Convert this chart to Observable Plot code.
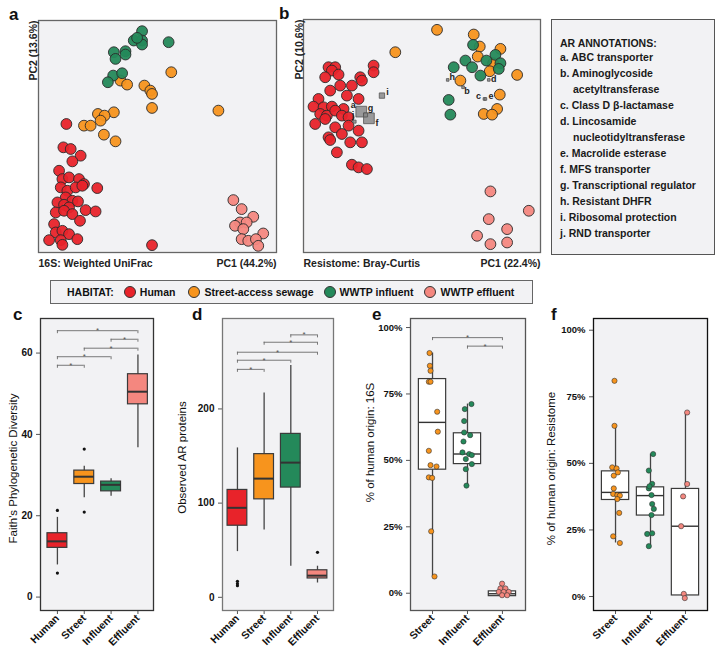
<!DOCTYPE html>
<html>
<head>
<meta charset="utf-8">
<script src="https://cdn.jsdelivr.net/npm/d3@7"></script>
<script src="https://cdn.jsdelivr.net/npm/@observablehq/plot@0.6"></script>
<style>
  body { margin: 0; background: #fff; font-family: "Liberation Sans", Arial, sans-serif; }
  #root { position: relative; width: 716px; height: 659px; overflow: hidden; background: #fff; }
  .panel { position: absolute; }
  .panel svg { display: block; overflow: visible; background: transparent; max-width: none; }
  .letter { position: absolute; font-weight: bold; font-size: 17px; line-height: 17px; color: #111; }
</style>
</head>
<body>
<div id="root"></div>
<script>
// ---------------- DATA ----------------
const habitats = ["Human", "Street-access sewage", "WWTP influent", "WWTP effluent"];
const habitatColors = ["#E8232A", "#F7941D", "#24895A", "#F4877F"];

// Panel a: 16S weighted UniFrac PCoA  [PC1, PC2]
const pcoa16S_human = [[-0.273,0.030],[-0.282,-0.040],[-0.260,-0.045],[-0.230,-0.065],[-0.255,-0.082],[-0.295,-0.110],[-0.285,-0.135],[-0.265,-0.130],[-0.235,-0.135],[-0.220,-0.150],[-0.180,-0.162],[-0.290,-0.160],[-0.270,-0.170],[-0.245,-0.160],[-0.225,-0.155],[-0.275,-0.190],[-0.255,-0.200],[-0.238,-0.202],[-0.300,-0.205],[-0.280,-0.212],[-0.265,-0.220],[-0.215,-0.228],[-0.185,-0.232],[-0.305,-0.235],[-0.280,-0.230],[-0.255,-0.240],[-0.232,-0.260],[-0.310,-0.270],[-0.305,-0.295],[-0.285,-0.290],[-0.265,-0.300],[-0.325,-0.318],[-0.290,-0.318],[-0.240,-0.315],[-0.285,-0.332],[-0.015,-0.333]];
const pcoa16S_street = [[0.043,0.185],[-0.110,0.160],[-0.090,0.148],[-0.038,0.145],[-0.020,0.130],[-0.015,0.120],[-0.015,0.078],[0.185,0.070],[-0.178,0.060],[-0.130,0.065],[-0.158,0.055],[-0.170,0.040],[-0.220,0.025],[-0.200,0.025],[-0.160,-0.002],[-0.125,-0.022]];
const pcoa16S_influent = [[-0.045,0.308],[-0.070,0.280],[-0.045,0.280],[-0.045,0.268],[0.035,0.275],[-0.130,0.245],[-0.095,0.248],[-0.125,0.225],[-0.095,0.238],[-0.132,0.175],[-0.105,0.182],[-0.148,0.155],[-0.060,0.288]];
const pcoa16S_effluent = [[0.230,-0.198],[0.255,-0.225],[0.290,-0.248],[0.250,-0.265],[0.270,-0.265],[0.235,-0.275],[0.260,-0.285],[0.320,-0.298],[0.255,-0.315],[0.275,-0.320],[0.298,-0.315],[0.305,-0.335]];
const pcoa16S_labels = ["PC1 (44.2%)", "PC2 (13.6%)", "16S: Weighted UniFrac"];

// Panel b: resistome Bray-Curtis PCoA  [PC1, PC2]
const pcoaRes_human = [[-0.140,0.205],[-0.140,0.185],[-0.275,0.200],[-0.255,0.200],[-0.265,0.190],[-0.245,0.178],[-0.285,0.170],[-0.180,0.170],[-0.175,0.160],[-0.240,0.145],[-0.205,0.145],[-0.270,0.130],[-0.220,0.115],[-0.305,0.105],[-0.185,0.105],[-0.320,0.082],[-0.290,0.080],[-0.265,0.082],[-0.230,0.075],[-0.300,0.060],[-0.280,0.055],[-0.255,0.070],[-0.235,0.055],[-0.285,0.045],[-0.215,0.050],[-0.315,0.030],[-0.255,0.020],[-0.215,0.025],[-0.185,0.010],[-0.235,0.000],[-0.275,-0.010],[-0.270,-0.018],[-0.210,-0.025],[-0.175,-0.025],[-0.250,-0.055],[-0.205,-0.092],[-0.185,-0.100],[-0.160,-0.105]];
const pcoaRes_street = [[0.050,0.312],[0.160,0.298],[0.178,0.262],[-0.075,0.245],[0.240,0.255],[0.172,0.232],[0.218,0.212],[0.208,0.188],[0.290,0.177],[0.120,0.160],[0.238,0.118],[0.230,0.075],[0.190,0.060],[0.215,0.058]];
const pcoaRes_influent = [[0.158,0.267],[0.225,0.237],[0.135,0.220],[0.198,0.220],[0.155,0.200],[0.240,0.212],[0.235,0.195],[0.180,0.175],[0.100,0.200],[0.085,0.102],[0.090,0.058]];
const pcoaRes_effluent = [[0.210,-0.172],[0.325,-0.230],[0.205,-0.255],[0.260,-0.285],[0.170,-0.305],[0.210,-0.330],[0.260,-0.325]];
const pcoaRes_labels = ["PC1 (22.4%)", "PC2 (10.6%)", "Resistome: Bray-Curtis"];

// AR annotations (biplot loadings on panel b)
const arLetters = ["a","b","c","d","e","f","g","h","i","j"];
const arNames = [["ABC transporter"],["Aminoglycoside","acetyltransferase"],["Class D β-lactamase"],["Lincosamide","nucleotidyltransferase"],["Macrolide esterase"],["MFS transporter"],["Transcriptional regulator"],["Resistant DHFR"],["Ribosomal protection"],["RND transporter"]];
const arPC1 = [-0.177, 0.128, 0.192, 0.205, 0.195, -0.154, -0.164, 0.082, -0.115, -0.197];
const arPC2 = [0.067, 0.140, 0.105, 0.162, 0.105, 0.047, 0.057, 0.162, 0.115, 0.037];
const arAbundance = [1.0, 0.06, 0.06, 0.06, 0.06, 1.0, 0.14, 0.06, 0.25, 0.08];

// Panel c: Faith's phylogenetic diversity
const alphaCats = ["Human", "Street", "Influent", "Effluent"];
const faithLow  = [7.9, 24.4, 24.8, 36.7];
const faithQ1   = [12.1, 27.8, 26.0, 47.4];
const faithMed  = [13.7, 29.6, 27.6, 50.5];
const faithQ3   = [15.7, 31.1, 28.4, 54.8];
const faithHigh = [19.6, 32.2, 29.1, 59.5];
const faithOutliers = [["Human",5.9],["Human",21.3],["Street",20.9],["Street",36.4]];
const faithSig = [["Human","Street",57.0],["Human","Influent",59.1],["Street","Effluent",61.2],["Influent","Effluent",63.4],["Human","Effluent",65.5]];

// Panel d: observed AR proteins
const arpLow  = [48.5, 71.5, 33, 15.2];
const arpQ1   = [76, 104, 116.5, 20];
const arpMed  = [95, 126, 143, 23];
const arpQ3   = [114, 152, 173.5, 28.7];
const arpHigh = [158.6, 217, 246, 33];
const arpOutliers = [["Human",17],["Human",14.5],["Human",12.4],["Effluent",47.8]];
const arpSig = [["Human","Street",242],["Human","Influent",251.7],["Human","Effluent",260.2],["Street","Effluent",270.8],["Influent","Effluent",278.6]];

// Panel e: % of human origin, 16S   points: [value %, horizontal jitter]
const sinkCats = ["Street", "Influent", "Effluent"];
const h16Low  = [6.3, 40.5, -1.1];
const h16Q1   = [46.5, 48.6, -1.1];
const h16Med  = [64.3, 52.4, -0.2];
const h16Q3   = [80.6, 60.2, 0.7];
const h16High = [90.4, 71.2, 0.7];
const h16_street = [[90.4,-0.086],[85.6,-0.076],[83.7,-0.057],[79.6,-0.105],[79.6,-0.057],[68.3,0.133],[60.8,0.152],[53.6,-0.105],[48.2,-0.057],[47.7,0.114],[43.6,-0.105],[43.4,-0.01],[23.3,-0.038],[6.3,0.057]];
const h16_influent = [[71.2,0.114],[69.3,-0.076],[64.8,-0.095],[60.5,-0.095],[59.5,0.076],[57.1,-0.114],[53.0,-0.143],[52.4,0.048],[52.0,0.124],[50.5,-0.048],[48.6,0.124],[46.7,-0.048],[40.5,-0.029]];
const h16_effluent = [[3.6,-0.01],[1.8,-0.057],[1.8,0.086],[0.5,-0.105],[0.5,0.037],[0.5,0.18],[-0.75,-0.01],[-0.75,0.134]];
const h16Sig = [["Influent","Effluent",93.0],["Street","Effluent",96.2]];

// Panel f: % of human origin, resistome
const hResLow  = [20.1, 18.9, 0.0];
const hResQ1   = [36.25, 30.4, 0.4];
const hResMed  = [39.1, 37.9, 26.4];
const hResQ3   = [47.0, 41.0, 40.4];
const hResHigh = [64.1, 53.5, 69.1];
const hRes_street = [[81.0,-0.03],[64.1,-0.03],[48.5,-0.095],[48.1,0.03],[45.4,-0.05],[46.6,0.067],[40.6,-0.05],[38.5,-0.067],[38.1,0.05],[37.9,0.124],[36.6,0.05],[31.4,0.105],[22.6,-0.067],[20.1,0.124]];
const hRes_influent = [[53.5,0.076],[47.3,-0.048],[42.3,0.048],[40.6,-0.048],[38.1,0.029],[34.75,0.048],[32.9,0.095],[30.6,0.029],[23.5,-0.095],[23.75,0.048],[18.9,-0.048],[41.4,-0.029]];
const hRes_effluent = [[69.1,0.048],[42.25,0.048],[37.6,-0.067],[26.4,-0.124],[1.0,-0.048],[-0.6,-0.019]];

// ---------------- HELPERS ----------------
const FONT = "'Liberation Sans', Arial, Helvetica, sans-serif";
const PANEL_BG = "#F2F2F4";
const catColor = {Human: habitatColors[0], Street: habitatColors[1], Influent: habitatColors[2], Effluent: habitatColors[3]};
const root = document.getElementById("root");

function place(node, left, top) {
  const d = document.createElement("div");
  d.className = "panel";
  d.style.left = left + "px";
  d.style.top = top + "px";
  d.appendChild(node);
  root.appendChild(d);
  return d;
}
function letter(t, left, top) {
  const d = document.createElement("div");
  d.className = "letter";
  d.textContent = t;
  d.style.left = left + "px";
  d.style.top = top + "px";
  root.appendChild(d);
}
function pointTable(groups) {
  return groups.flatMap(([k, pts]) => pts.map(([x, y]) => ({habitat: habitats[k], color: habitatColors[k], pc1: x, pc2: y})));
}

function scatterPanel(cfg) {
  const pts = pointTable(cfg.groups);
  const [pc1Label, pc2Label, title] = cfg.labels;
  const marks = [
    Plot.frame({fill: PANEL_BG, stroke: "#666", strokeWidth: 1.3}),
    Plot.dot(pts, {x: "pc1", y: "pc2", fill: "color", fillOpacity: 0.95, stroke: "#2a2a2a", strokeWidth: 0.9, r: 5.4}),
    ...(cfg.extra || []),
    Plot.text([pc2Label], {text: d => d, frameAnchor: "top-left", rotate: -90, textAnchor: "end", dx: cfg.pc2dx, fontWeight: "bold", fontSize: 10.5, fill: "#222"}),
    Plot.text([title], {text: d => d, frameAnchor: "bottom-left", textAnchor: "start", dy: 14, fontWeight: "bold", fontSize: 10.5, fill: "#222"}),
    Plot.text([pc1Label], {text: d => d, frameAnchor: "bottom-right", textAnchor: "end", dy: 14, fontWeight: "bold", fontSize: 10.5, fill: "#222"})
  ];
  return Plot.plot({
    width: cfg.width, height: cfg.height,
    marginLeft: cfg.ml, marginRight: cfg.mr, marginTop: cfg.mt, marginBottom: cfg.mb,
    x: {domain: cfg.xDomain, axis: null},
    y: {domain: cfg.yDomain, axis: null},
    color: {type: "identity"},
    r: cfg.r,
    style: {fontFamily: FONT, background: "transparent", overflow: "visible"},
    marks
  });
}

function boxPanel(cfg) {
  const n = cfg.cats.length;
  const idx = c => cfg.cats.indexOf(c) + 1;
  const stats = cfg.cats.map((c, k) => ({i: k + 1, cat: c, low: cfg.low[k], q1: cfg.q1[k], med: cfg.med[k], q3: cfg.q3[k], high: cfg.high[k]}));
  const [y0, y1] = cfg.yDomain;
  const frameH = cfg.height - cfg.mt - cfg.mb;
  const tickLen = 3 * (y1 - y0) / frameH;
  const br = (cfg.sig || []).map(([a, b, y]) => ({x1: idx(a), x2: idx(b), y}));
  const brEnds = br.flatMap(d => [{x: d.x1, y: d.y}, {x: d.x2, y: d.y}]);
  const outl = (cfg.outliers || []).map(([c, v]) => ({i: idx(c), v}));
  const pts = (cfg.points || []).flatMap(([c, arr]) => arr.map(([v, j]) => ({cat: c, i: idx(c) + j, v})));
  const half = cfg.half;
  const marks = [
    Plot.frame({fill: PANEL_BG}),
    Plot.ruleY(br, {x1: "x1", x2: "x2", y: "y", stroke: "#6a6a6a", strokeWidth: 0.9}),
    Plot.ruleX(brEnds, {x: "x", y1: "y", y2: d => d.y - tickLen, stroke: "#6a6a6a", strokeWidth: 0.9}),
    Plot.text(br, {x: d => (d.x1 + d.x2) / 2, y: "y", text: () => "*", lineAnchor: "bottom", dy: 2.5, fontSize: 8, fill: "#555"}),
    Plot.ruleX(stats, {x: "i", y1: "low", y2: "high", stroke: "#454545", strokeWidth: 1.3}),
    Plot.rect(stats, {x1: d => d.i - half, x2: d => d.i + half, y1: "q1", y2: "q3",
      fill: cfg.filled ? (d => catColor[d.cat]) : "#ffffff", stroke: "#3a3a3a", strokeWidth: 1.2}),
    Plot.ruleY(stats, {x1: d => d.i - half, x2: d => d.i + half, y: "med", stroke: "#333", strokeWidth: cfg.filled ? 2 : 1.4}),
    Plot.dot(outl, {x: "i", y: "v", r: 1.6, fill: "#111", stroke: "none"}),
    Plot.dot(pts, {x: "i", y: "v", r: 2.6, fill: d => catColor[d.cat], stroke: "#333", strokeWidth: 0.6}),
    Plot.axisY({ticks: cfg.yTicks, tickFormat: cfg.yFormat, tickSize: 4, tickPadding: 4, fontSize: cfg.tickFont, fontWeight: "bold", stroke: "#555", fill: "#111", label: null}),
    Plot.axisX({ticks: d3.range(1, n + 1), tickFormat: i => cfg.cats[i - 1], tickRotate: -45, tickSize: 4, tickPadding: 2, fontSize: 10.5, fontWeight: "bold", stroke: "#555", fill: "#111", label: null}),
    Plot.text([cfg.ylabel], {text: d => d, frameAnchor: "left", textAnchor: "middle", rotate: -90, dx: cfg.ylabelDx, dy: cfg.ylabelDy || 0, fontSize: 11.5, fill: "#111"}),
    Plot.frame({stroke: cfg.frameStroke, strokeWidth: 1.3})
  ];
  return Plot.plot({
    width: cfg.width, height: cfg.height,
    marginLeft: cfg.ml, marginRight: cfg.mr, marginTop: cfg.mt, marginBottom: cfg.mb,
    x: {type: "linear", domain: cfg.xDomain},
    y: {domain: cfg.yDomain},
    color: {type: "identity"},
    style: {fontFamily: FONT, background: "transparent", overflow: "visible"},
    marks
  });
}

// ---------------- PANEL a ----------------
place(scatterPanel({
  width: 280, height: 280, ml: 38, mr: 4, mt: 20, mb: 28,
  xDomain: [-0.357, 0.36], yDomain: [-0.355, 0.34],
  groups: [[0, pcoa16S_human], [1, pcoa16S_street], [2, pcoa16S_influent], [3, pcoa16S_effluent]],
  labels: pcoa16S_labels, pc2dx: -9
}), 0, 0);

// ---------------- PANEL b ----------------
const arTable = arLetters.map((l, k) => ({letter: l, pc1: arPC1[k], pc2: arPC2[k], abundance: arAbundance[k]}));
const arLabelOffset = {a: [-8, -7], b: [4, 3.5], c: [-6, -3], d: [5, -1], e: [5.5, -3], f: [8, 5], g: [5, -7], h: [4.5, -3], i: [5.5, -3], j: [-1.5, -7]};
const arMarks = [
  Plot.dot(arTable, {x: "pc1", y: "pc2", r: "abundance", symbol: "square", fill: "#8a8a8a", fillOpacity: 0.85, stroke: "#555", strokeWidth: 0.8}),
  ...arTable.map(d => Plot.text([d], {x: "pc1", y: "pc2", text: "letter", dx: arLabelOffset[d.letter][0], dy: arLabelOffset[d.letter][1], fontSize: 9, fontWeight: "bold", fill: "#222"}))
];
place(scatterPanel({
  width: 275, height: 280, ml: 33, mr: 5, mt: 19, mb: 28,
  xDomain: [-0.35, 0.36], yDomain: [-0.355, 0.343],
  groups: [[0, pcoaRes_human], [1, pcoaRes_street], [2, pcoaRes_influent], [3, pcoaRes_effluent]],
  labels: pcoaRes_labels, pc2dx: -7.5,
  r: {type: "sqrt", domain: [0, 1], range: [0, 6.04]},
  extra: arMarks
}), 270, 0);

// ---------------- AR annotation box ----------------
(function () {
  const box = document.createElement("div");
  box.style.cssText = "position:absolute;left:551px;top:19px;width:164px;height:236px;box-sizing:border-box;border:1px solid #555;background:" + PANEL_BG + ";padding:15px 0 0 8px;font-weight:bold;font-size:10.5px;line-height:16px;color:#1a1a1a;white-space:nowrap;";
  const head = document.createElement("div");
  head.textContent = "AR ANNOTATIONS:";
  head.style.marginBottom = "-2px";
  box.appendChild(head);
  arLetters.forEach((l, k) => {
    arNames[k].forEach((line, m) => {
      const row = document.createElement("div");
      row.textContent = m === 0 ? l + ". " + line : line;
      if (m > 0) row.style.paddingLeft = "13px";
      box.appendChild(row);
    });
  });
  root.appendChild(box);
})();

// ---------------- HABITAT legend ----------------
(function () {
  const lg = document.createElement("div");
  lg.style.cssText = "position:absolute;left:50px;top:280px;width:483px;height:24px;box-sizing:border-box;border:1px solid #666;background:" + PANEL_BG + ";display:flex;align-items:center;padding-left:16px;font-weight:bold;font-size:10.5px;color:#111;white-space:nowrap;";
  const t = document.createElement("span");
  t.textContent = "HABITAT:";
  lg.appendChild(t);
  const gaps = [10, 13, 10, 11];
  habitats.forEach((h, k) => {
    const sw = document.createElement("span");
    sw.style.cssText = "display:inline-block;width:12px;height:12px;box-sizing:border-box;border-radius:50%;border:1px solid #333;background:" + habitatColors[k] + ";margin-left:" + gaps[k] + "px;margin-right:4px;";
    lg.appendChild(sw);
    const tx = document.createElement("span");
    tx.textContent = h;
    lg.appendChild(tx);
  });
  root.appendChild(lg);
})();

// ---------------- PANEL c ----------------
place(boxPanel({
  width: 180, height: 359, ml: 40, mr: 27, mt: 18, mb: 49,
  cats: alphaCats, low: faithLow, q1: faithQ1, med: faithMed, q3: faithQ3, high: faithHigh,
  outliers: faithOutliers, sig: faithSig, filled: true, half: 0.37,
  xDomain: [0.37, 4.58], yDomain: [-3.3, 68.5], yTicks: [0, 20, 40, 60], yFormat: d => d, tickFont: 10,
  ylabel: "Faith's Phylogenetic Diversity", ylabelDx: -27, ylabelDy: 4, frameStroke: "#333"
}), 0, 300);

// ---------------- PANEL d ----------------
place(boxPanel({
  width: 180, height: 359, ml: 42, mr: 27, mt: 18, mb: 49,
  cats: alphaCats, low: arpLow, q1: arpQ1, med: arpMed, q3: arpQ3, high: arpHigh,
  outliers: arpOutliers, sig: arpSig, filled: true, half: 0.37,
  xDomain: [0.44, 4.6], yDomain: [-14, 296], yTicks: [0, 100, 200], yFormat: d => d, tickFont: 10,
  ylabel: "Observed AR proteins", ylabelDx: -40, ylabelDy: -7, frameStroke: "#777"
}), 180, 300);

// ---------------- PANEL e ----------------
place(boxPanel({
  width: 180, height: 359, ml: 50, mr: 15, mt: 18, mb: 49,
  cats: sinkCats, low: h16Low, q1: h16Q1, med: h16Med, q3: h16Q3, high: h16High,
  points: [["Street", h16_street], ["Influent", h16_influent], ["Effluent", h16_effluent]],
  sig: h16Sig, filled: false, half: 0.39,
  xDomain: [0.37, 3.66], yDomain: [-6.5, 103.4], yTicks: [0, 25, 50, 75, 100], yFormat: d => d + "%", tickFont: 9.5,
  ylabel: "% of human origin: 16S", ylabelDx: -40, ylabelDy: -22, frameStroke: "#555"
}), 360, 300);

// ---------------- PANEL f ----------------
place(boxPanel({
  width: 176, height: 359, ml: 53, mr: 9, mt: 18, mb: 49,
  cats: sinkCats, low: hResLow, q1: hResQ1, med: hResMed, q3: hResQ3, high: hResHigh,
  points: [["Street", hRes_street], ["Influent", hRes_influent], ["Effluent", hRes_effluent]],
  sig: [], filled: false, half: 0.39,
  xDomain: [0.37, 3.63], yDomain: [-5.25, 104.4], yTicks: [0, 25, 50, 75, 100], yFormat: d => d + "%", tickFont: 9.5,
  ylabel: "% of human origin: Resistome", ylabelDx: -42, ylabelDy: 4, frameStroke: "#111"
}), 540, 300);

// ---------------- panel letters ----------------
letter("a", 9, 6);
letter("b", 279, 5);
letter("c", 13, 306);
letter("d", 192, 306);
letter("e", 372, 306);
letter("f", 551, 306);
</script>
</body>
</html>
